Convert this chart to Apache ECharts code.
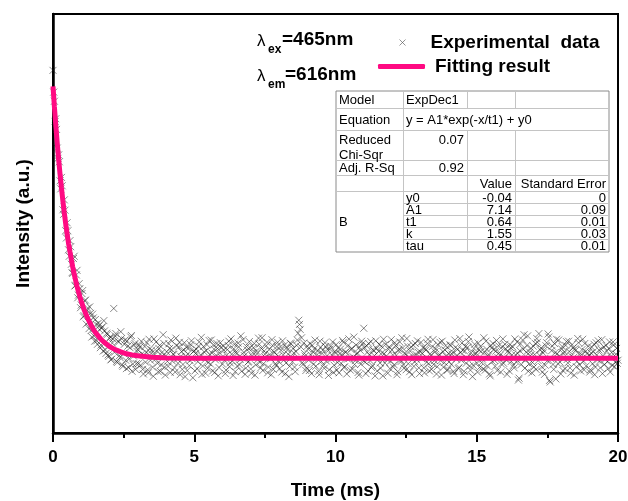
<!DOCTYPE html>
<html>
<head>
<meta charset="utf-8">
<script src="https://cdn.jsdelivr.net/npm/echarts/dist/echarts.min.js"></script>
<style>
  html, body { margin: 0; padding: 0; background: #fff; }
  #decayChart { width: 628px; height: 501px; }
</style>
</head>
<body>
<div id="decayChart"></div>
<script>
// sampling interval of the measured decay (ms); two interleaved reads per interval
var sampleStep = 0.05;

// measured intensity at t = 0, 0.05 ... 3.00 ms
var decayIntensity = [
  7.52, 6.71, 6.25, 5.48, 5.30, 4.62, 4.71, 3.86, 4.12, 3.31,
  3.52, 2.81, 3.05, 2.43, 2.19, 2.64, 1.88, 2.27, 1.62, 1.79,
  1.36, 1.74, 1.08, 1.49, 1.21, 0.91, 1.31, 0.69, 1.12, 0.55,
  0.98, 0.42, 0.88, 0.71, 0.31, 0.79, 0.95, 0.18, 0.62, 0.05,
  0.48, -0.08, 0.36, 1.27, 0.55, -0.12, 0.41, 0.03, 0.66, -0.21,
  0.09, 0.44, -0.31, 0.28, -0.05, 0.52, -0.38, 0.02, 0.35, -0.18,
  0.19
];
// measured intensity at t = 0.025, 0.075 ... 2.975 ms
var decayIntensityMid = [
  6.95, 6.18, 5.97, 5.21, 5.12, 4.41, 4.49, 3.74, 3.85, 3.12,
  3.31, 2.64, 2.89, 2.21, 2.58, 1.86, 2.15, 1.55, 1.92, 1.29,
  1.66, 1.05, 1.47, 0.86, 1.28, 0.74, 1.14, 0.52, 1.02, 0.41,
  0.85, 0.33, 0.81, 0.24, 0.76, 0.15, 0.68, 0.09, 0.59, 0.01,
  0.52, -0.06, 0.47, 0.12, 0.61, -0.15, 0.39, -0.02, 0.48, -0.25,
  0.33, -0.09, 0.42, -0.28, 0.24, 0.56, -0.19, 0.31, -0.33, 0.14
];

// measured intensity at t = 3.05 ... 20.00 ms (one row per ms)
var tailIntensity = [
  0.31, -0.22, 0.08, -0.45, 0.27, 0.12, -0.34, 0.46, -0.09, 0.18, -0.51, 0.05, 0.39, -0.17, 0.22, -0.38, 0.11, 0.58, -0.27, 0.03,
  -0.12, 0.34, -0.41, 0.19, 0.07, -0.29, 0.49, -0.06, 0.26, -0.47, 0.14, -0.2, 0.37, 0.01, -0.36, 0.23, -0.1, 0.42, -0.55, 0.16,
  0.09, -0.31, 0.28, -0.02, 0.51, -0.24, 0.13, -0.43, 0.32, -0.15, 0.06, 0.44, -0.37, 0.2, -0.08, 0.35, -0.5, 0.1, 0.25, -0.19,
  0.17, -0.44, 0.04, 0.3, -0.26, 0.47, -0.11, 0.21, -0.39, 0.08, 0.36, -0.21, 0.55, -0.03, 0.12, -0.46, 0.27, -0.14, 0.4, -0.32,
  0.02, 0.24, -0.48, 0.15, -0.07, 0.33, -0.29, 0.5, -0.18, 0.07, 0.29, -0.42, 0.19, -0.05, 0.45, -0.33, 0.11, -0.23, 0.38, -0.13,
  0.26, -0.4, 0.05, 0.31, -0.16, 0.18, -0.52, 0.36, -0.01, 0.22, -0.27, 0.14, 0.44, 0.96, 0.72, 0.5, -0.2, 0.09, -0.36, 0.28,
  -0.09, 0.35, -0.44, 0.13, 0.21, -0.25, 0.06, -0.38, 0.41, -0.12, 0.17, -0.3, 0.27, 0.03, -0.49, 0.2, -0.06, 0.39, -0.22, 0.1,
  -0.35, 0.23, 0.08, -0.17, 0.43, -0.28, 0.12, -0.45, 0.3, -0.04, 0.19, -0.32, 0.52, -0.1, 0.07, -0.41, 0.25, -0.19, 0.34, 0.75,
  -0.14, 0.29, -0.37, 0.05, 0.4, -0.23, 0.16, -0.5, 0.22, -0.07, 0.33, -0.3, 0.11, 0.46, -0.16, 0.02, -0.43, 0.26, -0.11, 0.18,
  -0.27, 0.37, 0.04, -0.39, 0.2, -0.08, 0.5, -0.21, 0.1, -0.34, 0.28, -0.02, 0.15, -0.47, 0.31, -0.13, 0.06, 0.42, -0.29, 0.13,
  -0.05, 0.24, -0.42, 0.18, 0.35, -0.18, 0.08, -0.33, 0.45, -0.1, 0.21, -0.26, 0.02, 0.38, -0.48, 0.14, -0.15, 0.29, -0.36, 0.09,
  0.32, -0.2, 0.12, -0.44, 0.25, 0.04, -0.31, 0.48, -0.09, 0.17, -0.38, 0.27, -0.03, 0.4, -0.24, 0.1, -0.52, 0.22, 0.07, -0.16,
  0.36, -0.28, 0.14, -0.06, 0.5, -0.35, 0.2, 0.01, -0.45, 0.3, -0.12, 0.19, -0.25, 0.43, -0.02, 0.11, -0.4, 0.26, -0.17, 0.33,
  -0.08, 0.15, -0.37, 0.24, 0.05, -0.22, 0.47, -0.13, 0.09, -0.56, 0.34, -0.04, 0.2, -0.3, 0.12, 0.55, -0.19, 0.03, -0.42, 0.28,
  0.06, -0.33, 0.38, 0.61, 0.18, -0.26, 0.1, -0.46, 0.29, -0.1, 0.52, -0.66, 0.16, -0.2, 0.35, -0.58, 0.08, 0.44, -0.14, 0.21,
  -0.36, 0.13, 0.3, -0.07, 0.41, -0.29, 0.02, 0.23, -0.48, 0.17, -0.12, 0.37, -0.21, 0.06, 0.46, -0.34, 0.14, -0.03, 0.28, -0.4,
  0.1, -0.18, 0.33, -0.27, 0.05, 0.42, -0.11, 0.2, -0.44, 0.26, -0.06, 0.15, -0.31, 0.39, 0.01, -0.23, 0.31, -0.14, 0.22, -0.09
];
// measured intensity at t = 3.025 ... 19.975 ms (one row per ms)
var tailIntensityMid = [
  -0.18, 0.26, 0.41, -0.33, 0.04, -0.14, 0.37, -0.42, 0.21, 0.09, -0.27, 0.47, -0.06, 0.15, -0.39, 0.3, -0.21, 0.02, 0.35, -0.48,
  0.13, -0.25, 0.22, 0.44, -0.11, 0.06, -0.4, 0.29, -0.17, 0.38, 0.01, -0.33, 0.18, -0.52, 0.25, 0.08, -0.23, 0.32, -0.05, 0.14,
  -0.37, 0.2, -0.13, 0.39, 0.05, -0.46, 0.27, -0.08, 0.16, -0.3, 0.43, -0.19, 0.1, 0.31, -0.41, 0.04, 0.22, -0.28, 0.37, -0.02,
  0.28, -0.09, -0.35, 0.19, 0.41, -0.16, 0.07, -0.49, 0.33, 0.12, -0.24, 0.26, -0.07, -0.38, 0.45, 0.03, -0.3, 0.18, -0.12, 0.24,
  -0.43, 0.11, 0.35, -0.21, 0.08, 0.49, -0.14, 0.22, -0.36, 0.15, -0.02, 0.38, -0.27, 0.06, -0.47, 0.3, 0.13, -0.18, 0.27, 0.01,
  -0.31, 0.17, 0.42, -0.08, -0.44, 0.24, 0.07, -0.25, 0.34, -0.13, 0.1, -0.39, 0.3, 0.62, 0.85, 0.26, -0.15, 0.36, 0.02, -0.29,
  0.21, -0.36, 0.05, 0.3, -0.19, 0.44, -0.04, 0.16, -0.47, 0.25, 0.09, -0.22, 0.37, -0.11, 0.19, -0.34, 0.28, 0.04, -0.41, 0.14,
  0.32, -0.15, -0.42, 0.2, 0.06, 0.38, -0.26, 0.13, -0.06, 0.47, -0.35, 0.22, 0.0, -0.2, 0.31, 0.1, -0.48, 0.17, 0.41, -0.09,
  0.24, -0.44, 0.12, 0.35, -0.1, -0.28, 0.19, 0.03, 0.42, -0.37, 0.14, -0.16, 0.28, -0.5, 0.08, 0.33, -0.07, 0.2, -0.31, 0.45,
  0.05, -0.21, 0.3, -0.47, 0.16, 0.39, -0.12, 0.23, -0.3, 0.07, 0.48, -0.18, -0.39, 0.26, 0.02, -0.25, 0.35, -0.08, 0.12, -0.44,
  0.38, 0.09, -0.29, 0.22, -0.14, 0.46, -0.37, 0.04, 0.27, -0.2, 0.13, -0.45, 0.32, 0.06, -0.1, 0.41, -0.27, 0.18, 0.01, -0.33,
  -0.13, 0.29, 0.07, -0.38, 0.44, -0.06, 0.2, -0.28, 0.11, 0.36, -0.47, 0.15, -0.17, 0.25, 0.52, -0.35, 0.03, -0.22, 0.33, 0.09,
  -0.4, 0.18, 0.27, -0.15, -0.32, 0.12, 0.41, -0.24, 0.06, -0.5, 0.23, 0.35, -0.09, 0.15, -0.36, 0.29, 0.04, -0.19, 0.47, -0.03,
  0.21, -0.46, 0.1, 0.32, -0.12, 0.26, -0.29, 0.05, 0.39, -0.61, 0.16, -0.2, 0.44, 0.58, -0.07, 0.3, -0.38, 0.12, 0.22, -0.15,
  -0.27, 0.35, 0.48, -0.1, 0.04, 0.23, -0.4, 0.17, -0.22, 0.37, 0.6, -0.62, -0.05, 0.28, -0.33, 0.11, 0.46, -0.18, 0.02, -0.45,
  0.27, 0.08, -0.31, 0.4, -0.16, 0.14, -0.43, 0.32, -0.02, 0.21, -0.26, 0.48, 0.06, -0.37, 0.19, -0.11, 0.35, -0.24, 0.1, 0.03,
  -0.34, 0.25, 0.13, -0.47, 0.37, -0.08, 0.18, -0.29, 0.45, 0.02, -0.2, 0.3, -0.13, 0.22, -0.4, 0.11, 0.39, -0.26, 0.07, -0.17
];

// fitted ExpDec1 curve
var fitTime = [0, 0.05, 0.1, 0.15, 0.2, 0.25, 0.3, 0.35, 0.4, 0.45,
  0.5, 0.55, 0.6, 0.65, 0.7, 0.75, 0.8, 0.85, 0.9, 0.95,
  1.0, 1.1, 1.2, 1.3, 1.4, 1.5, 1.6, 1.7, 1.8, 1.9,
  2.0, 2.2, 2.4, 2.6, 2.8, 3.0, 3.5, 4.0, 5.0, 20];
var fitIntensity = [7.10, 6.56, 6.07, 5.61, 5.18, 4.79, 4.43, 4.09, 3.78, 3.49,
  3.23, 2.98, 2.76, 2.55, 2.35, 2.17, 2.01, 1.85, 1.71, 1.58,
  1.46, 1.24, 1.06, 0.90, 0.76, 0.64, 0.55, 0.46, 0.39, 0.33,
  0.27, 0.19, 0.13, 0.08, 0.05, 0.03, -0.01, -0.03, -0.04, -0.04];

var xTicks = [0, 5, 10, 15, 20];

// fit report table (origin style)
var tableHead = [
  ['Model', 'ExpDec1', '', ''],
  ['Equation', 'y = A1*exp(-x/t1) + y0'],
  ['Reduced\nChi-Sqr', '0.07', '', ''],
  ['Adj. R-Sq', '0.92', '', ''],
  ['', '', 'Value', 'Standard Error']
];
var paramGroup = 'B';
var paramNames = ['y0', 'A1', 't1', 'k', 'tau'];
var paramValues = ['-0.04', '7.14', '0.64', '1.55', '0.45'];
var paramErrors = ['0', '0.09', '0.01', '0.03', '0.01'];

function toPoints(values, t0) {
  return values.map(function (v, i) {
    return [Math.round((t0 + i * sampleStep) * 1000) / 1000, v];
  });
}
var measured = toPoints(decayIntensity, 0)
  .concat(toPoints(decayIntensityMid, 0.025))
  .concat(toPoints(tailIntensity, 3.05))
  .concat(toPoints(tailIntensityMid, 3.025));
var fitted = fitTime.map(function (t, i) { return [t, fitIntensity[i]]; });

var font = 'Arial, "Liberation Sans", sans-serif';
var pink = '#ff0a82';
var crossPath = 'path://M0,0L10,10M10,0L0,10';

// ---- table graphic ----
var colX = [336, 403, 467, 515, 609];
var rowY = [91, 108, 130, 160, 175, 191, 203, 215, 227, 239, 252];
var gridLine = '#c4c4c4';
var tableEls = [];

tableEls.push({
  type: 'rect', shape: { x: colX[0], y: rowY[0], width: colX[4] - colX[0], height: rowY[10] - rowY[0] },
  style: { fill: '#fff', stroke: '#8a8a8a', lineWidth: 1 }, z: 10
});
function hLine(y, x1, x2) {
  tableEls.push({ type: 'line', shape: { x1: x1, y1: y + 0.5, x2: x2, y2: y + 0.5 }, style: { stroke: gridLine, lineWidth: 1 }, z: 11 });
}
function vLine(x, y1, y2) {
  tableEls.push({ type: 'line', shape: { x1: x + 0.5, y1: y1, x2: x + 0.5, y2: y2 }, style: { stroke: gridLine, lineWidth: 1 }, z: 11 });
}
for (var r = 1; r <= 5; r++) hLine(rowY[r], colX[0], colX[4]);
for (var r2 = 6; r2 <= 9; r2++) hLine(rowY[r2], colX[1], colX[4]);
vLine(colX[1], rowY[0], rowY[10]);
vLine(colX[2], rowY[0], rowY[1]);
vLine(colX[3], rowY[0], rowY[1]);
vLine(colX[2], rowY[2], rowY[10]);
vLine(colX[3], rowY[2], rowY[10]);

function cellText(txt, x, y, align, vAlign) {
  tableEls.push({
    type: 'text', x: x, y: y, z: 12,
    style: { text: txt, font: '13px ' + font, fill: '#000', textAlign: align, textVerticalAlign: vAlign || 'middle', lineHeight: 15 }
  });
}
tableHead.forEach(function (row, ri) {
  var yMid = (rowY[ri] + rowY[ri + 1]) / 2 + 1;
  row.forEach(function (txt, ci) {
    if (!txt) return;
    if (ri === 2) {
      // tall row: text sits at the top
      if (ci === 0) cellText(txt, colX[0] + 3, rowY[2] + 3, 'left', 'top');
      else cellText(txt, colX[ci + 1] - 3, rowY[2] + 3, 'right', 'top');
      return;
    }
    var leftAligned = ci === 0 || ri <= 1;
    if (leftAligned) cellText(txt, colX[ci] + 3, yMid, 'left');
    else cellText(txt, colX[ci + 1] - 3, yMid, 'right');
  });
});
cellText(paramGroup, colX[0] + 3, (rowY[5] + rowY[10]) / 2 + 1, 'left');
paramNames.forEach(function (p, i) {
  var yMid = (rowY[5 + i] + rowY[6 + i]) / 2 + 1;
  cellText(p, colX[1] + 3, yMid, 'left');
  cellText(paramValues[i], colX[3] - 3, yMid, 'right');
  cellText(paramErrors[i], colX[4] - 3, yMid, 'right');
});

// excitation / emission wavelengths
var lambdaEls = [
  { type: 'text', x: 257, y: 41, style: { text: 'λ', font: '17px ' + font, fill: '#000', textVerticalAlign: 'middle' } },
  { type: 'text', x: 268, y: 50, style: { text: 'ex', font: 'bold 12px ' + font, fill: '#000', textVerticalAlign: 'middle' } },
  { type: 'text', x: 282, y: 40, style: { text: '=465nm', font: 'bold 19px ' + font, fill: '#000', textVerticalAlign: 'middle' } },
  { type: 'text', x: 257, y: 76, style: { text: 'λ', font: '17px ' + font, fill: '#000', textVerticalAlign: 'middle' } },
  { type: 'text', x: 268, y: 85, style: { text: 'em', font: 'bold 12px ' + font, fill: '#000', textVerticalAlign: 'middle' } },
  { type: 'text', x: 285, y: 75, style: { text: '=616nm', font: 'bold 19px ' + font, fill: '#000', textVerticalAlign: 'middle' } }
];

var chart = echarts.init(document.getElementById('decayChart'));
var option = {
  animation: false,
  grid: {
    left: 53, right: 10, top: 14, bottom: 68,
    outerBoundsMode: 'none',
    show: true, borderColor: '#000', borderWidth: 2, backgroundColor: 'transparent'
  },
  legend: [
    {
      data: [{ name: 'Experimental  data', icon: crossPath, itemStyle: { color: 'none', borderColor: '#555', borderWidth: 0.8 } }],
      left: 397, top: 33, padding: 0, itemWidth: 6, itemHeight: 6,
      textStyle: { fontFamily: font, fontSize: 19, fontWeight: 'bold', color: '#000', padding: [0, 0, 0, 20] }
    },
    {
      data: [{ name: 'Fitting result', icon: 'roundRect' }],
      left: 378, top: 57, padding: 0, itemWidth: 47, itemHeight: 5,
      textStyle: { fontFamily: font, fontSize: 19, fontWeight: 'bold', color: '#000', padding: [0, 0, 0, 5] }
    }
  ],
  xAxis: {
    type: 'value', min: xTicks[0], max: xTicks[xTicks.length - 1], interval: 5,
    name: 'Time (ms)', nameLocation: 'middle', nameGap: 48, nameMoveOverlap: false,
    nameTextStyle: { fontFamily: font, fontSize: 19, fontWeight: 'bold', color: '#000' },
    axisLine: { onZero: false, lineStyle: { color: '#000', width: 2.5 } },
    axisTick: { show: true, inside: false, length: 9, lineStyle: { color: '#000', width: 2 } },
    minorTick: { show: true, splitNumber: 2, length: 5, lineStyle: { color: '#000', width: 2 } },
    axisLabel: { fontFamily: font, fontSize: 17, fontWeight: 'bold', color: '#000', margin: 16 },
    splitLine: { show: false }
  },
  yAxis: {
    type: 'value', min: -2, max: 9,
    name: 'Intensity (a.u.)', nameLocation: 'middle', nameGap: 20, nameRotate: 90, nameMoveOverlap: false,
    nameTextStyle: { fontFamily: font, fontSize: 19, fontWeight: 'bold', color: '#000' },
    axisLine: { show: true, onZero: false, lineStyle: { color: '#000', width: 2.5 } },
    axisTick: { show: false },
    axisLabel: { show: false },
    splitLine: { show: false }
  },
  series: [
    {
      name: 'Experimental  data',
      type: 'scatter',
      data: measured,
      symbol: crossPath,
      symbolSize: 7,
      itemStyle: { color: 'none', borderColor: 'rgba(25,25,25,0.72)', borderWidth: 0.9 },
      z: 2
    },
    {
      name: 'Fitting result',
      type: 'line',
      data: fitted,
      symbol: 'none',
      smooth: false,
      lineStyle: { color: pink, width: 5 },
      itemStyle: { color: pink },
      z: 3
    }
  ],
  graphic: lambdaEls.concat(tableEls)
};
chart.setOption(option);
</script>
</body>
</html>
